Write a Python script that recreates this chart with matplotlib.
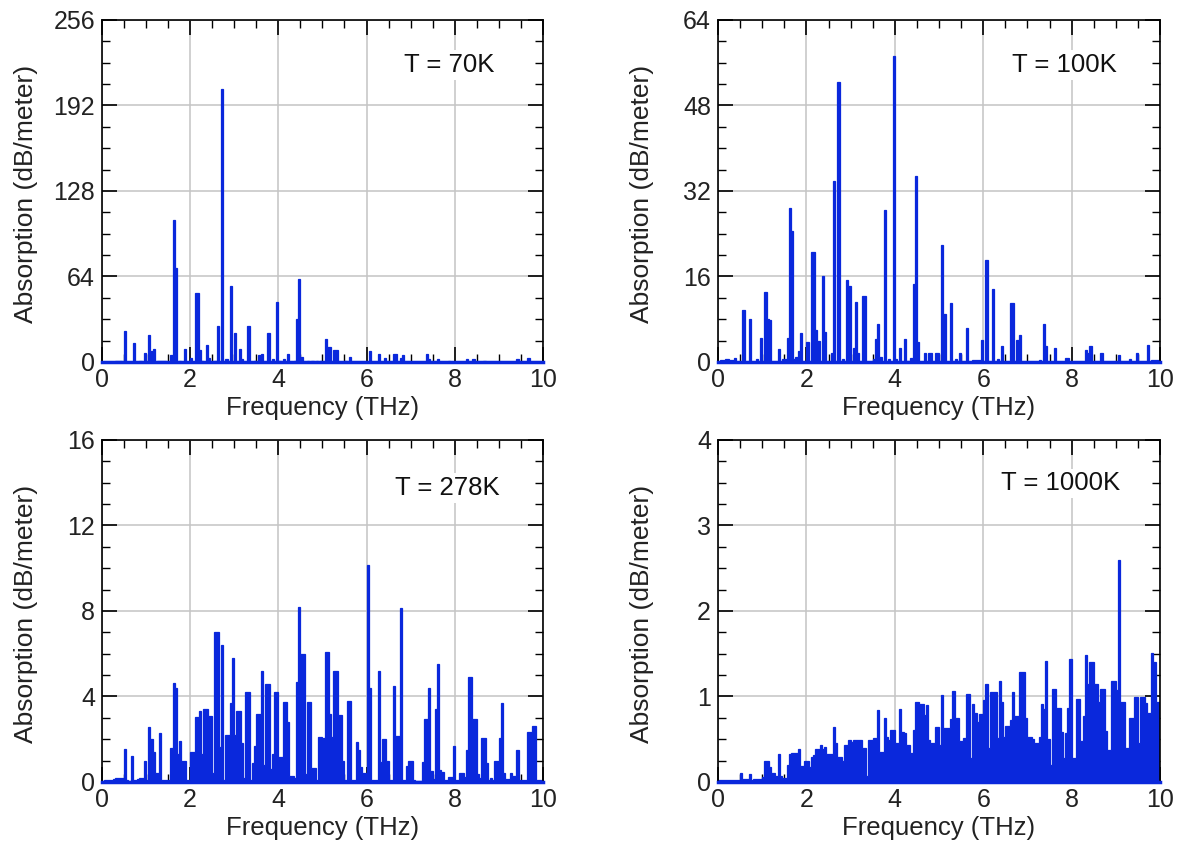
import numpy as np
import matplotlib
matplotlib.use('Agg')
import matplotlib.pyplot as plt
from matplotlib.ticker import MultipleLocator

plt.rcParams['font.family'] = ['Liberation Sans', 'DejaVu Sans']

# Frequency grid: 0.05 THz bins from 0 to 10 THz
bin_w = 0.05
edges = np.round(np.arange(0, 10 + bin_w / 2, bin_w), 3)

# T = 70K : sparse lines (bin start in THz, absorption in dB/m)
f_70 = [0.30, 0.35, 0.40, 0.50, 0.70, 0.85, 0.95, 1.05, 1.10, 1.15, 1.25, 1.30, 1.35, 1.40,
        1.55, 1.60, 1.65, 1.75, 1.85, 2.00, 2.10, 2.15, 2.20, 2.25, 2.35, 2.40, 2.55, 2.60,
        2.70, 2.80, 2.90, 3.00, 3.10, 3.15, 3.30, 3.45, 3.55, 3.60, 3.75, 3.85, 3.95, 4.00,
        4.10, 4.20, 4.35, 4.40, 4.45, 4.50, 4.65, 4.75, 4.85, 4.95, 5.05, 5.10, 5.15, 5.25,
        5.30, 5.50, 5.60, 6.05, 6.25, 6.40, 6.60, 6.65, 6.75, 6.80, 7.35, 7.40, 7.60, 7.85,
        8.25, 8.40, 8.65, 9.40, 9.65]
a_70 = [1, 1, 0.5, 23, 14, 1, 7, 20, 8, 10, 1, 1, 1, 1,
        5, 106, 70, 1, 10, 3, 52, 52, 9, 1, 13, 3, 1, 27,
        204, 2, 57, 22, 10, 2, 27, 1, 5, 6, 22, 2, 45, 1,
        2, 6, 1, 32, 62, 4, 1, 1, 1, 1, 17, 11, 11, 9,
        9, 1, 4, 8, 6, 3, 6, 6, 3, 5, 6, 2, 2, 1,
        2, 2, 1, 2, 3]

# T = 100K : sparse lines
f_100 = [0.05, 0.10, 0.15, 0.20, 0.25, 0.30, 0.35, 0.55, 0.70, 0.85, 0.95, 1.05, 1.10, 1.15,
         1.35, 1.45, 1.50, 1.55, 1.60, 1.65, 1.70, 1.75, 1.80, 1.85, 2.00, 2.10, 2.15, 2.20,
         2.25, 2.35, 2.40, 2.55, 2.60, 2.70, 2.80, 2.90, 2.95, 3.05, 3.10, 3.15, 3.25, 3.30,
         3.50, 3.55, 3.60, 3.65, 3.75, 3.85, 3.95, 4.00, 4.10, 4.20, 4.25, 4.30, 4.35, 4.40,
         4.45, 4.50, 4.65, 4.75, 4.80, 4.90, 4.95, 5.05, 5.10, 5.25, 5.35, 5.45, 5.60, 5.75,
         5.80, 5.85, 5.90, 5.95, 6.05, 6.20, 6.30, 6.40, 6.60, 6.65, 6.75, 6.80, 7.25, 7.35,
         7.40, 7.60, 7.85, 7.90, 8.30, 8.35, 8.40, 8.65, 9.05, 9.30, 9.45, 9.70, 9.80, 9.85,
         9.90, 9.95]
a_100 = [0.3, 0.3, 0.5, 0.5, 0.3, 0.3, 0.7, 9.8, 8.1, 0.5, 4.5, 13.1, 8.1, 7.8,
         2.4, 0.5, 0.5, 4.5, 28.9, 24.6, 0.5, 0.9, 2.0, 5.5, 3.8, 20.5, 20.5, 6.0,
         3.9, 16.0, 5.7, 1.7, 33.9, 52.4, 0.5, 15.3, 14.3, 2.7, 11.2, 1.7, 12.4, 12.4,
         0.5, 4.3, 7.2, 1.0, 28.4, 0.5, 57.3, 0.5, 2.7, 4.3, 0.2, 0.2, 0.8, 14.6,
         34.8, 3.8, 1.7, 1.7, 1.7, 1.6, 1.6, 21.8, 8.9, 11.0, 0.5, 1.7, 6.3, 0.3,
         0.3, 0.3, 0.3, 4.2, 19.1, 13.7, 0.5, 2.9, 11.0, 11.0, 4.1, 5.0, 0.3, 7.2,
         2.9, 2.7, 0.7, 0.7, 2.2, 1.7, 2.9, 1.7, 1.4, 0.5, 1.7, 3.2, 0.3, 0.3,
         0.3, 0.3]

# T = 278K : one value per 0.05 THz bin, one row per THz
a_278 = [
    0.05, 0.1, 0.1, 0.1, 0.1, 0.15, 0.2, 0.2, 0.2, 0.2, 1.55, 0.1, 0.05, 1.2, 0.1, 0.1, 0.15, 0.2, 0.2, 1.0,
    0.1, 2.55, 2.0, 1.4, 0.4, 0.4, 2.3, 0.1, 0.1, 0.1, 0.1, 1.6, 4.65, 4.4, 1.3, 1.9, 1.0, 1.0, 0.1, 0.1,
    1.4, 1.4, 3.05, 3.05, 3.3, 1.3, 3.4, 3.4, 3.1, 3.1, 0.4, 7.0, 7.0, 1.65, 6.4, 0.1, 2.2, 2.2, 3.7, 5.8,
    2.2, 3.3, 3.3, 1.8, 0.2, 4.2, 4.2, 0.1, 0.9, 1.7, 3.2, 3.2, 5.2, 0.8, 4.6, 4.6, 0.6, 1.3, 4.2, 4.2,
    1.15, 1.15, 3.75, 3.75, 2.8, 0.3, 0.3, 0.2, 4.7, 8.2, 6.0, 6.0, 0.35, 3.75, 3.75, 0.65, 0.65, 0.1, 2.1, 2.1,
    2.05, 6.1, 6.1, 3.2, 2.1, 5.2, 5.2, 3.15, 3.15, 1.0, 0.1, 3.8, 3.8, 0.1, 0.1, 1.85, 1.5, 0.7, 0.4, 0.4,
    10.15, 4.4, 0.1, 0.1, 0.1, 5.2, 0.95, 2.0, 2.0, 1.0, 0.1, 0.1, 4.5, 2.15, 2.15, 8.15, 0.1, 0.1, 0.75, 1.0,
    1.0, 0.1, 0.05, 0.05, 0.05, 0.95, 2.95, 2.95, 4.4, 0.5, 0.15, 3.4, 5.5, 0.55, 0.45, 0.1, 0.1, 0.25, 0.25, 1.7,
    0.1, 0.1, 0.4, 0.4, 0.25, 1.5, 4.9, 4.9, 2.95, 2.95, 0.35, 0.2, 2.05, 2.05, 0.9, 0.1, 0.2, 0.1, 1.0, 1.0,
    2.05, 3.7, 0.4, 0.15, 0.15, 0.4, 0.3, 0.3, 1.5, 0.1, 0.1, 0.1, 0.1, 2.35, 2.35, 2.6, 2.6, 0.1, 0.1, 0.1,
]

# T = 1000K : one value per 0.05 THz bin, one row per THz
a_1000 = [
    0.02, 0.02, 0.02, 0.02, 0.02, 0.02, 0.02, 0.02, 0.02, 0.02, 0.1, 0.03, 0.03, 0.03, 0.09, 0.02, 0.03, 0.03, 0.03, 0.03,
    0.06, 0.24, 0.24, 0.17, 0.11, 0.11, 0.07, 0.33, 0.07, 0.05, 0.05, 0.2, 0.33, 0.34, 0.34, 0.34, 0.39, 0.19, 0.19, 0.24,
    0.24, 0.17, 0.29, 0.32, 0.38, 0.38, 0.43, 0.38, 0.41, 0.33, 0.33, 0.33, 0.64, 0.46, 0.29, 0.29, 0.24, 0.43, 0.43, 0.49,
    0.47, 0.49, 0.49, 0.49, 0.49, 0.40, 0.40, 0.07, 0.49, 0.49, 0.52, 0.52, 0.84, 0.35, 0.35, 0.75, 0.53, 0.49, 0.61, 0.61,
    0.45, 0.45, 0.85, 0.59, 0.57, 0.43, 0.43, 0.34, 0.61, 0.93, 0.93, 0.91, 0.91, 0.78, 0.9, 0.49, 0.45, 0.45, 0.64, 0.64,
    0.43, 1.02, 0.63, 0.63, 0.63, 0.74, 1.06, 0.75, 0.75, 0.48, 0.48, 0.51, 1.03, 1.03, 0.28, 0.91, 0.81, 0.7, 0.79, 0.79,
    0.96, 1.14, 0.4, 1.05, 1.05, 1.05, 0.52, 1.18, 0.93, 0.53, 0.66, 0.66, 0.72, 1.05, 0.77, 0.77, 1.29, 1.29, 1.29, 0.75,
    0.53, 0.53, 0.5, 0.46, 0.46, 0.53, 0.91, 0.85, 1.41, 0.5, 0.2, 1.09, 1.09, 0.87, 0.87, 0.59, 0.28, 0.57, 0.87, 1.44,
    0.28, 0.28, 0.97, 0.97, 0.48, 0.77, 1.48, 1.15, 1.4, 1.4, 1.14, 1.14, 0.93, 1.09, 1.09, 0.6, 0.37, 0.37, 1.18, 1.18,
    1.07, 2.6, 0.93, 0.93, 0.4, 0.4, 0.75, 0.75, 0.99, 0.99, 0.45, 0.99, 0.99, 0.92, 0.81, 0.81, 1.51, 1.40, 0.94, 0.94,
]

labels = ['T = 70K', 'T = 100K', 'T = 278K', 'T = 1000K']
y_tops = [256, 64, 16, 4]
y_steps = [64, 16, 4, 1]
label_pos = [(0.787, 0.868), (0.784, 0.868), (0.784, 0.859), (0.776, 0.873)]


def to_bins(freqs, amps):
    vals = np.zeros(len(edges) - 1)
    for f, a in zip(freqs, amps):
        vals[int(round(f / bin_w))] = a
    return vals


spectra = [to_bins(f_70, a_70), to_bins(f_100, a_100),
           np.array(a_278), np.array(a_1000)]

blue = '#0a28dc'
fig = plt.figure(figsize=(11.8, 8.43), dpi=100, facecolor='white')

ax_pos = [[0.0864, 0.5706, 0.3737, 0.4057],
          [0.6085, 0.5706, 0.3746, 0.4057],
          [0.0864, 0.0724, 0.3737, 0.4057],
          [0.6085, 0.0724, 0.3746, 0.4057]]

for k in range(4):
    ax = fig.add_axes(ax_pos[k])
    ax.stairs(spectra[k], edges, fill=True, facecolor=blue, edgecolor=blue,
              linewidth=0.9)
    ax.axhline(0, color=blue, lw=2.5, zorder=3, clip_on=False)

    ax.set_xlim(0, 10)
    ax.set_ylim(0, y_tops[k])
    ax.xaxis.set_major_locator(MultipleLocator(2))
    ax.xaxis.set_minor_locator(MultipleLocator(0.5))
    ax.yaxis.set_major_locator(MultipleLocator(y_steps[k]))
    ax.yaxis.set_minor_locator(MultipleLocator(y_steps[k] / 4))

    ax.grid(True, which='major', color='#c4c4c4', lw=1.1)
    ax.set_axisbelow(True)
    ax.tick_params(which='both', direction='in', top=True, right=True,
                   colors='black', labelsize=18, labelcolor='#222222')
    ax.tick_params(which='major', length=11, width=1.2)
    ax.tick_params(which='minor', length=5.5, width=1.0)
    ax.tick_params(axis='x', pad=4)
    ax.tick_params(axis='y', pad=5)
    for s in ax.spines.values():
        s.set_linewidth(1.2)

    ax.set_xlabel('Frequency (THz)', fontsize=18.5, color='#222222', labelpad=3)
    ax.set_ylabel('Absorption (dB/meter)', fontsize=19, color='#222222')
    ax.yaxis.set_label_coords(-0.145, 0.49)

    lx, ly = label_pos[k]
    ax.text(lx, ly, labels[k], transform=ax.transAxes, ha='center', va='center',
            fontsize=18.5, color='#111111',
            bbox=dict(facecolor='white', edgecolor='none', pad=2))

plt.savefig('out.png', dpi=100, facecolor='white')
